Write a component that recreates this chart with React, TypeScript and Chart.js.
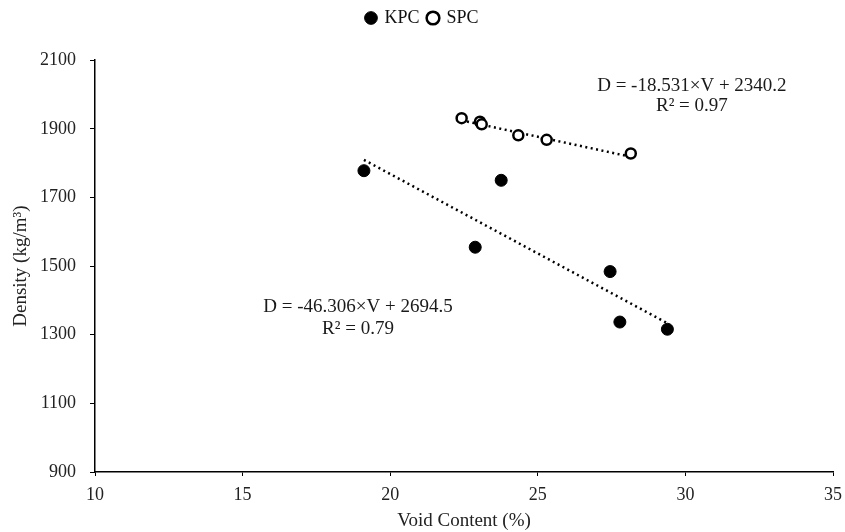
import React, { useEffect, useRef } from "react";
import { Chart, registerables } from "chart.js";

Chart.register(...registerables);

const voidKPC = [19.11, 23.76, 22.88, 27.45, 27.78, 29.39];
const densityKPC = [1778, 1750, 1555, 1484, 1337, 1316];
const voidSPC = [22.42, 23.04, 23.1, 24.34, 25.3, 28.15];
const densitySPC = [1931, 1921, 1913, 1881, 1868, 1828];

// trendline equations as printed on the chart: D = slope*V + intercept
const slopes = [-46.306, -18.531];
const intercepts = [2694.5, 2340.2];
const equationLabels = ["D = -46.306×V + 2694.5", "D = -18.531×V + 2340.2"];
const r2Labels = ["R² = 0.79", "R² = 0.97"];
// anchor positions of the labels in data units [V, D]
const eqAnchors = [[18.91, 1382], [30.22, 2024]];
const r2Anchors = [[18.91, 1318], [30.22, 1966]];

const FONT = '"Liberation Serif", "Times New Roman", serif';

function trend(xs: number[], i: number) {
  const lo = Math.min(...xs);
  const hi = Math.max(...xs);
  return [
    { x: lo, y: slopes[i] * lo + intercepts[i] },
    { x: hi, y: slopes[i] * hi + intercepts[i] },
  ];
}

const labelPlugin = {
  id: "eqLabels",
  afterDatasetsDraw(chart: any) {
    const { ctx, scales } = chart;
    ctx.save();
    ctx.fillStyle = "#1a1a1a";
    ctx.font = `19px ${FONT}`;
    ctx.textAlign = "center";
    ctx.textBaseline = "middle";
    for (let i = 0; i < 2; i++) {
      ctx.fillText(equationLabels[i], scales.x.getPixelForValue(eqAnchors[i][0]), scales.y.getPixelForValue(eqAnchors[i][1]));
      ctx.fillText(r2Labels[i], scales.x.getPixelForValue(r2Anchors[i][0]), scales.y.getPixelForValue(r2Anchors[i][1]));
    }
    ctx.restore();
  },
};

export default function App() {
  const ref = useRef<HTMLCanvasElement>(null);
  useEffect(() => {
    const chart = new Chart(ref.current!, {
      type: "scatter",
      data: {
        datasets: [
          {
            label: "KPC",
            data: voidKPC.map((v, i) => ({ x: v, y: densityKPC[i] })),
            backgroundColor: "#000",
            borderColor: "#000",
            pointRadius: 6,
            pointHoverRadius: 6,
            borderWidth: 1,
            pointStyle: "circle",
          },
          {
            label: "SPC",
            data: voidSPC.map((v, i) => ({ x: v, y: densitySPC[i] })),
            backgroundColor: "#fff",
            borderColor: "#000",
            pointRadius: 5,
            pointHoverRadius: 5,
            borderWidth: 2.5,
            pointStyle: "circle",
          },
          {
            label: "trendKPC",
            type: "line",
            data: trend(voidKPC, 0),
            borderColor: "#000",
            borderWidth: 2.5,
            borderDash: [2, 3.5],
            pointRadius: 0,
            fill: false,
          } as any,
          {
            label: "trendSPC",
            type: "line",
            data: trend(voidSPC, 1),
            borderColor: "#000",
            borderWidth: 2.5,
            borderDash: [2, 3.5],
            pointRadius: 0,
            fill: false,
          } as any,
        ],
      },
      options: {
        animation: false,
        responsive: false,
        layout: { padding: { left: 0, right: 0, top: 0, bottom: 0 } },
        plugins: {
          tooltip: { enabled: false },
          subtitle: {
            display: true,
            text: "",
            weight: 500,
            font: { size: 1 },
            padding: { top: 22, bottom: 0 },
          } as any,
          legend: {
            position: "top",
            labels: {
              usePointStyle: true,
              boxHeight: 9,
              boxWidth: 9,
              padding: 9,
              color: "#111",
              font: { family: FONT, size: 18 },
              filter: (item: any) => item.text === "KPC" || item.text === "SPC",
            },
          },
        },
        scales: {
          x: {
            type: "linear",
            min: 10,
            max: 35,
            ticks: { stepSize: 5, color: "#222", font: { family: FONT, size: 18 }, padding: 8, callback: (v: any) => String(v) },
            grid: { drawOnChartArea: false, drawTicks: true, tickLength: 4, color: "#000" },
            border: { color: "#000", width: 1.5 },
            title: { display: true, text: "Void Content (%)", color: "#222", font: { family: FONT, size: 19 }, padding: { top: 2, bottom: 0 } },
            afterFit: (s: any) => { s.height = 60; s.paddingRight = 12; },
          },
          y: {
            type: "linear",
            min: 900,
            max: 2100,
            ticks: { stepSize: 200, color: "#222", font: { family: FONT, size: 18 }, padding: 14, callback: (v: any) => String(v) },
            grid: { drawOnChartArea: false, drawTicks: true, tickLength: 5, color: "#000" },
            border: { color: "#000", width: 1.5 },
            title: { display: true, text: "Density (kg/m³)", color: "#222", font: { family: FONT, size: 19 }, padding: { top: 10, bottom: 0 } },
            afterFit: (s: any) => { s.width = 95; },
          },
        },
      },
      plugins: [labelPlugin],
    });
    return () => chart.destroy();
  }, []);
  return (
    <div style={{ position: "fixed", left: 0, top: 0, width: 845, height: 532, background: "#fff" }}>
      <canvas ref={ref} width={845} height={532} style={{ width: 845, height: 532 }} />
    </div>
  );
}
